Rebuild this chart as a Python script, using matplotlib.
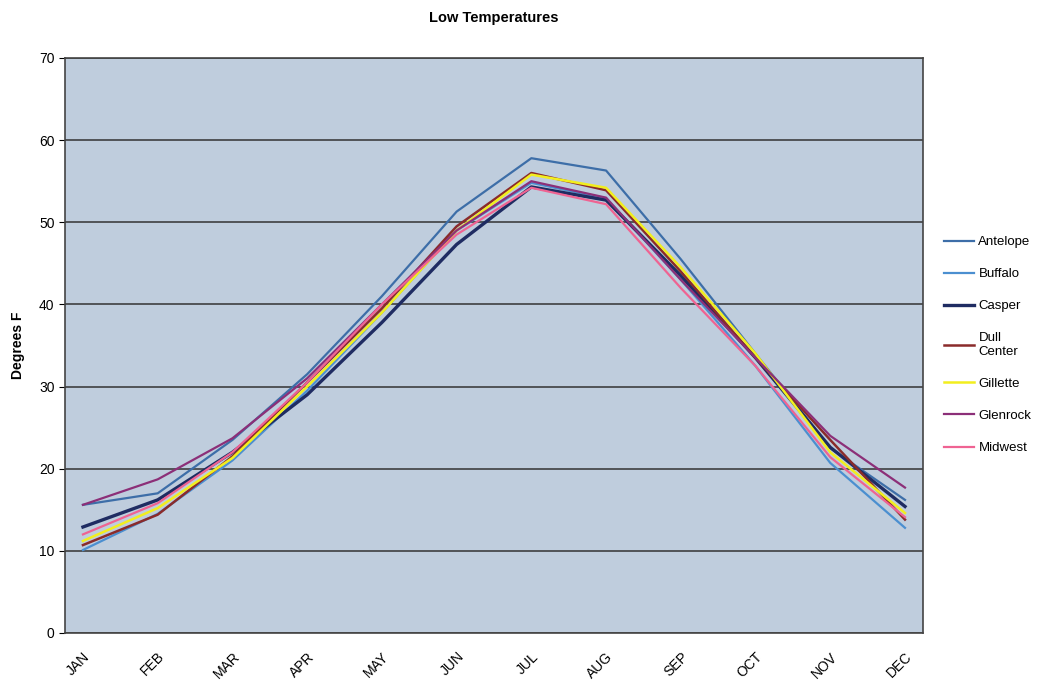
import matplotlib
matplotlib.use("Agg")
import matplotlib.pyplot as plt

plt.rcParams['font.family'] = ['Liberation Sans', 'DejaVu Sans']

months = ["JAN", "FEB", "MAR", "APR", "MAY", "JUN",
          "JUL", "AUG", "SEP", "OCT", "NOV", "DEC"]

antelope = [15.6, 17.0, 23.5, 31.5, 41.0, 51.3, 57.8, 56.3, 45.5, 34.0, 22.5, 16.2]
buffalo = [10.1, 14.5, 21.0, 29.5, 39.0, 49.0, 54.8, 52.9, 43.0, 32.5, 20.7, 12.8]
casper = [12.9, 16.2, 22.0, 29.0, 37.8, 47.3, 54.3, 52.7, 43.5, 33.5, 22.6, 15.4]
dull_center = [10.7, 14.4, 21.5, 30.5, 39.5, 49.5, 56.0, 53.9, 44.0, 33.5, 23.5, 13.8]
gillette = [11.2, 15.2, 21.3, 30.0, 39.0, 49.0, 55.8, 54.2, 44.5, 34.0, 22.0, 14.6]
glenrock = [15.6, 18.7, 23.7, 31.0, 40.0, 49.0, 55.0, 53.0, 43.0, 33.5, 24.0, 17.7]
midwest = [12.0, 15.8, 22.0, 30.5, 40.0, 48.5, 54.2, 52.2, 42.0, 32.5, 21.4, 14.1]

series = [
    ("Antelope", antelope, "#3d6ea8", 1.6),
    ("Buffalo", buffalo, "#4b8fd0", 1.6),
    ("Casper", casper, "#1f2c62", 2.4),
    ("Dull\nCenter", dull_center, "#8a2b2b", 1.8),
    ("Gillette", gillette, "#f2ee1e", 1.8),
    ("Glenrock", glenrock, "#8c2f78", 1.6),
    ("Midwest", midwest, "#ef6392", 1.6),
]

fig = plt.figure(figsize=(10.37, 6.88), dpi=100)
ax = fig.add_axes([0.0627, 0.080, 0.8273, 0.8357])
ax.set_facecolor("#bfcddd")

x = list(range(len(months)))
for name, vals, color, lw in series:
    ax.plot(x, vals, color=color, linewidth=lw, label=name)

ax.set_ylim(0, 70)
ax.set_yticks(range(0, 71, 10))
ax.set_xlim(-0.24, 11.24)
ax.set_xticks(x)
ax.set_xticklabels(months, rotation=45, ha="right", rotation_mode="anchor",
                   fontsize=10)
ax.tick_params(axis="y", labelsize=10, length=4)
ax.tick_params(axis="x", length=0, pad=12)
ax.yaxis.grid(True, color="#333333", linewidth=1.1)
ax.set_axisbelow(True)
for sp in ax.spines.values():
    sp.set_color("#444444")
    sp.set_linewidth(1.2)

ax.set_title("Low Temperatures", fontsize=10.5, fontweight="bold", pad=26)
ax.set_ylabel("Degrees F", fontsize=10, fontweight="bold", labelpad=10)

fig.legend(loc="upper left", bbox_to_anchor=(0.899, 0.674), frameon=False,
           fontsize=9.5, handlelength=2.3, handletextpad=0.3,
           labelspacing=1.5)

fig.savefig("out.png", dpi=100, facecolor="white")
